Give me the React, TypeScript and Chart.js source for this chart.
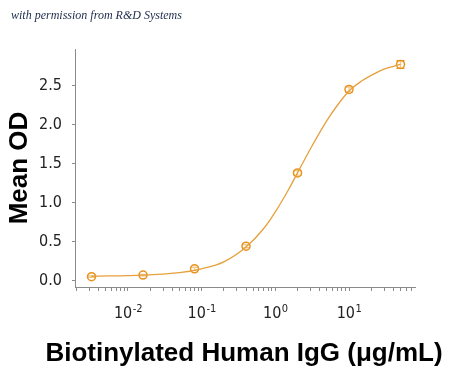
import { useEffect, useRef } from 'react';
import { Chart, registerables } from 'chart.js';

Chart.register(...registerables);

// ---- data ----
const concentrations = [0.0032, 0.016, 0.08, 0.4, 2, 10, 50];
const meanOD = [0.05, 0.07, 0.15, 0.44, 1.38, 2.45, 2.77];
const odError = [0.01, 0.01, 0.02, 0.02, 0.03, 0.03, 0.05];

// fitted curve
const curveConc = [0.0032, 0.016, 0.05, 0.1, 0.2, 0.4, 0.7, 1, 1.5, 2, 3, 5, 7, 10, 15, 20, 30, 50];
const curveOD = [0.055, 0.07, 0.1, 0.15, 0.24, 0.43, 0.67, 0.88, 1.16, 1.38, 1.69, 2.05, 2.25, 2.43, 2.56, 2.63, 2.71, 2.77];

const yTickValues = [0, 0.5, 1.0, 1.5, 2.0, 2.5];
const xTickValues = [0.01, 0.1, 1, 10];
const xTickBase = ['10', '10', '10', '10'];
const xTickExp = ['-2', '-1', '0', '1'];

const xTitle = 'Biotinylated Human IgG (\u03bcg/mL)';
const yTitle = 'Mean OD';
const credit = 'with permission from R&D Systems';

const X_MIN = 0.001909;
const X_MAX = 78.66;
const Y_MIN = -0.083;
const Y_MAX = 2.968;

const ORANGE = '#e8921c';
const LINE = '#e6a03c';
const AXIS = '#8a8a8a';
const TICK_FONT = "'Liberation Sans Narrow', 'DejaVu Sans Condensed', 'Roboto', sans-serif";
const TITLE_FONT = "'Liberation Sans', Arial, sans-serif";

const decorPlugin = {
  id: 'decor',
  beforeDatasetsDraw(chart: any) {
    const ctx = chart.ctx;
    const meta = chart.getDatasetMeta(1);
    const ys = chart.scales.y;
    ctx.save();
    ctx.strokeStyle = ORANGE;
    ctx.lineWidth = 1.3;
    meta.data.forEach((pt: any, i: number) => {
      const x = pt.x;
      const top = ys.getPixelForValue(meanOD[i] + odError[i]);
      const bot = ys.getPixelForValue(meanOD[i] - odError[i]);
      ctx.beginPath();
      ctx.moveTo(x, top);
      ctx.lineTo(x, bot);
      ctx.moveTo(x - 4, top);
      ctx.lineTo(x + 4, top);
      ctx.moveTo(x - 4, bot);
      ctx.lineTo(x + 4, bot);
      ctx.stroke();
    });
    ctx.restore();
  },
  afterDraw(chart: any) {
    const ctx = chart.ctx;
    const xs = chart.scales.x;
    const area = chart.chartArea;
    ctx.save();
    // x tick labels with superscript exponents
    ctx.fillStyle = '#222';
    ctx.textBaseline = 'alphabetic';
    xTickValues.forEach((v, i) => {
      const px = xs.getPixelForValue(v);
      ctx.font = `16px ${TICK_FONT}`;
      const wb = ctx.measureText(xTickBase[i]).width;
      ctx.font = `11px ${TICK_FONT}`;
      const we = ctx.measureText(xTickExp[i]).width;
      const start = px - (wb + we) / 2;
      ctx.textAlign = 'left';
      ctx.font = `16px ${TICK_FONT}`;
      ctx.fillText(xTickBase[i], start, 318);
      ctx.font = `11px ${TICK_FONT}`;
      ctx.fillText(xTickExp[i], start + wb + 0.5, 312);
    });
    // axis titles
    ctx.fillStyle = '#000';
    ctx.font = `bold 26px ${TITLE_FONT}`;
    ctx.textAlign = 'center';
    ctx.fillText(xTitle, (area.left + area.right) / 2 - 1, 361);
    ctx.translate(27, (area.top + area.bottom) / 2);
    ctx.rotate(-Math.PI / 2);
    ctx.fillText(yTitle, 0, 0);
    ctx.restore();
  },
};

export default function App() {
  const ref = useRef<HTMLCanvasElement>(null);
  useEffect(() => {
    const chart = new Chart(ref.current as HTMLCanvasElement, {
      type: 'line',
      data: {
        datasets: [
          {
            data: curveConc.map((c, i) => ({ x: c, y: curveOD[i] })),
            borderColor: LINE,
            borderWidth: 1.3,
            pointRadius: 0,
            cubicInterpolationMode: 'monotone',
            fill: false,
          },
          {
            data: concentrations.map((c, i) => ({ x: c, y: meanOD[i] })),
            showLine: false,
            pointStyle: 'circle',
            pointRadius: 4,
            pointBorderWidth: 1.5,
            pointBorderColor: ORANGE,
            pointBackgroundColor: 'rgba(255,255,255,0.5)',
          },
        ],
      } as any,
      options: {
        animation: false,
        responsive: false,
        devicePixelRatio: 1,
        layout: { padding: { left: 0, top: 49, right: 35, bottom: 0 } },
        plugins: { legend: { display: false }, tooltip: { enabled: false } },
        scales: {
          x: {
            type: 'logarithmic',
            min: X_MIN,
            max: X_MAX,
            position: 'bottom',
            afterBuildTicks: (scale: any) => {
              const t: any[] = [];
              for (let e = -3; e <= 2; e++) {
                for (let m = 1; m <= 9; m++) {
                  const v = m * Math.pow(10, e);
                  if (v >= X_MIN && v <= X_MAX) t.push({ value: v });
                }
              }
              scale.ticks = t;
            },
            afterFit: (scale: any) => {
              scale.height = 82;
            },
            ticks: { autoSkip: false, callback: () => '', padding: 0 },
            grid: { drawOnChartArea: false, drawTicks: true, tickLength: 4, color: AXIS, lineWidth: 1 },
            border: { color: AXIS, width: 1 },
          },
          y: {
            type: 'linear',
            min: Y_MIN,
            max: Y_MAX,
            afterBuildTicks: (scale: any) => {
              scale.ticks = yTickValues.map((v) => ({ value: v }));
            },
            afterFit: (scale: any) => {
              scale.width = 75;
            },
            ticks: {
              autoSkip: false,
              padding: 10,
              color: '#222',
              font: { family: TICK_FONT, size: 16 },
              callback: (v: any) => Number(v).toFixed(1),
            },
            grid: { drawOnChartArea: false, drawTicks: true, tickLength: 3, color: AXIS, lineWidth: 1 },
            border: { color: AXIS, width: 1 },
          },
        },
      } as any,
      plugins: [decorPlugin],
    });
    return () => chart.destroy();
  }, []);

  return (
    <div style={{ position: 'absolute', left: 0, top: 0, width: 450, height: 369, background: '#fff' }}>
      <canvas ref={ref} width={450} height={369} style={{ display: 'block' }} />
      <div
        style={{
          position: 'absolute',
          left: 11,
          top: 8,
          fontFamily: "'Liberation Serif', 'DejaVu Serif', serif",
          fontStyle: 'italic',
          fontSize: 12,
          color: '#1c2a4a',
          whiteSpace: 'nowrap',
          lineHeight: '14px',
        }}
      >
        {credit}
      </div>
    </div>
  );
}
